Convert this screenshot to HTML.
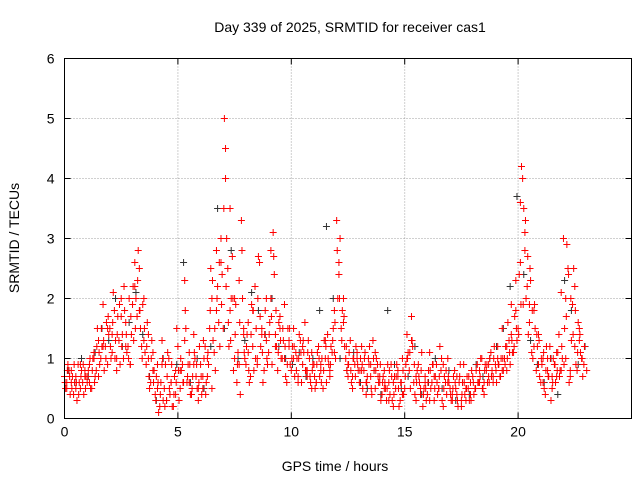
<!DOCTYPE html>
<html><head><meta charset="utf-8"><style>
body{margin:0;background:#fff}
svg text{font-family:"Liberation Sans","DejaVu Sans",sans-serif;font-size:14px;fill:#000}
</style></head><body>
<svg id="chart" width="640" height="480" xmlns="http://www.w3.org/2000/svg">
<rect width="640" height="480" fill="#fff"/>
<text x="350" y="32" text-anchor="middle">Day 339 of 2025, SRMTID for receiver cas1</text>
<text x="335" y="471" text-anchor="middle">GPS time / hours</text>
<text transform="translate(19,238) rotate(-90)" text-anchor="middle">SRMTID / TECUs</text>
<g id="grid"></g><g id="ticks"></g><g id="marks"></g>
<rect x="64.5" y="58.5" width="567" height="360" fill="none" stroke="#000"/>
</svg>
<script>
const xTicks=[0,5,10,15,20];
const yTicks=[0,1,2,3,4,5,6];
const red1=[0.7,0.5,0.8,0.6,0.4,0.7,0.9,0.5,0.6,0.8,0.6,0.9,0.5,1.1,0.8,1.3,1.0,1.9,1.2,0.9,1.5,1.1,1.8,0.8,1.3,2.0,1.0,1.6,1.2,0.9,1.9,2.6,1.7,2.5,1.2,2.0,0.9,1.4,0.6,1.1,0.4,0.9,0.2,1.3,0.5,0.3,1.0,0.6,0.2,0.8,1.2,0.5,0.9,2.3,0.6,1.1,0.4,1.4,0.7,0.3,0.9,0.5,1.2,0.7,1.5,2.0,1.1,2.8,1.6,3.0,1.5,4.0,2.5,1.8,2.7,1.0,0.6,2.3,3.3,1.4,0.9,1.6,0.7,1.2,2.2,1.0,2.6,1.5,0.8,1.3,1.1,2.0,3.1,1.4,0.8,1.7,1.0,1.9,0.6,1.2,0.8,1.5,1.1,0.6,1.3,0.9,1.6,0.7,1.0,0.5,0.9,0.6,1.2,0.8,0.5,1.0,1.4,0.7,1.1,1.8,3.3,2.4,1.5,2.0,1.0,0.7,1.3,0.5,0.9,1.1,0.6,1.2,0.8,0.4,1.0,0.7,1.3,0.5,0.9,0.6,0.4,0.8,0.3,0.6,0.9,0.2,0.5,0.7,0.3,1.0,0.5,1.4,0.8,1.7,0.6,0.3,0.9,0.5,0.2,0.7,0.4,1.1,0.6,0.3,0.9,0.5,0.8,0.2,0.6,1.0,0.5,0.3,0.8,0.4,0.6,0.2,0.9,0.3,0.5,0.4,0.7,0.5,0.9,0.6,1.0,0.4,0.8,0.7,1.1,0.6,0.9,1.2,0.7,1.5,1.0,0.8,1.3,1.9,1.1,2.3,1.5,2.6,4.0,3.1,2.2,1.6,1.1,1.8,0.8,1.4,0.6,1.0,0.4,0.8,1.2,0.5,0.9,0.7,1.4,2.1,3.0,1.0,2.5,0.7,1.9,1.2,0.8,1.5,1.0];
const red2=[0.5,0.9,0.4,0.7,0.6,0.3,0.6,0.8,0.4,0.7,0.8,0.5,1.0,0.7,1.5,0.9,1.2,0.8,1.6,1.4,1.0,2.1,1.3,1.7,0.9,1.4,1.8,1.1,2.0,1.4,1.3,2.0,2.8,1.5,1.9,1.1,1.6,0.5,1.3,0.8,0.7,0.1,0.6,0.3,0.9,1.1,0.4,0.2,0.7,1.5,0.3,0.8,0.6,1.5,0.9,0.4,0.7,1.0,0.5,1.2,0.4,1.0,0.6,0.9,2.5,1.3,0.8,2.2,1.2,2.4,5.0,3.0,1.2,2.0,0.8,1.9,1.1,0.4,2.0,1.0,1.4,0.6,1.9,0.8,1.5,2.7,1.2,0.6,1.8,0.9,1.6,0.9,2.4,1.2,1.6,1.0,1.3,0.7,1.5,0.9,1.2,0.7,1.0,1.4,0.6,1.1,0.8,1.3,0.6,0.9,0.5,1.1,0.7,1.0,1.3,0.6,0.9,1.2,1.5,1.0,2.0,3.0,1.8,1.2,0.8,1.1,0.6,1.0,1.2,0.8,1.0,0.5,1.1,0.7,1.2,0.4,0.8,1.0,0.6,0.3,0.7,0.5,0.9,0.4,0.3,0.7,0.9,0.2,0.6,0.4,0.9,1.1,0.5,1.2,0.4,0.8,0.6,1.1,0.5,0.3,0.8,0.5,0.9,0.7,0.4,1.2,0.3,0.7,0.4,0.6,0.3,0.7,0.5,0.2,0.9,0.6,0.4,0.7,0.3,0.8,0.4,0.8,0.6,1.0,0.5,0.9,0.6,1.0,0.8,1.2,0.6,0.9,1.0,0.8,1.2,1.6,0.9,1.1,1.7,1.3,2.4,4.2,3.5,2.0,1.4,2.3,1.0,1.5,1.2,0.7,0.9,0.5,1.2,0.7,0.3,1.0,0.6,1.1,0.8,1.0,1.5,2.9,0.6,1.3,2.5,0.9,1.6,1.1,0.7];
const red3=[0.6,0.8,0.5,0.9,0.7,0.6,1.0,0.7,1.2,1.5,1.4,1.0,1.7,1.2,0.9,2.2,1.8,1.3,1.0,0.8,0.5,0.9,0.3,0.6,0.4,0.8,1.3,0.6,0.9,0.5,0.7,1.0,0.5,1.8,2.6,4.5,3.5,2.0,0.9,1.5,1.1,1.8,0.9,1.4,2.0,2.8,1.2,1.5,1.0,1.3,1.0,0.7,1.2,0.8,1.1,0.6,0.9,1.3,0.8,1.1,2.6,1.6,0.9,0.7,1.0,0.8,0.6,0.9,1.1,0.7,0.5,0.3,0.6,0.8,0.4,1.0,1.3,0.7,0.4,0.6,0.3,0.7,0.5,0.9,0.6,0.4,0.7,0.3,0.5,0.6,0.5,0.8,0.6,0.9,0.7,1.0,0.8,1.2,1.4,1.8,3.6,2.8,1.9,1.2,0.9,0.6,1.0,0.7,1.1,0.8,2.0,0.8,2.2,1.3,0.9];
const red4=[0.6,0.8,0.7,0.5,0.9,0.6,0.4,0.7,0.9,0.5,0.7,1.0,0.8,0.6,1.2,1.1,1.5,1.3,1.0,1.7,1.2,1.6,1.0,1.4,1.9,1.2,2.2,1.4,1.0,1.7,2.2,1.5,2.3,1.8,1.0,1.5,1.2,0.7,1.0,0.6,0.3,0.6,0.4,1.0,0.2,0.7,0.5,0.9,0.4,0.6,0.8,1.0,0.6,1.8,0.7,0.9,0.5,1.1,0.9,0.6,0.7,1.3,0.4,1.1,1.8,2.3,1.5,2.0,2.6,1.9,3.5,2.2,1.6,1.3,2.0,1.4,0.9,1.6,2.8,1.1,1.2,0.8,1.4,1.8,1.0,2.0,1.7,1.1,1.4,1.0,1.4,1.7,2.7,1.8,1.1,1.3,1.5,1.2,0.9,1.5,1.0,1.2,0.8,1.0,1.1,1.3,0.8,1.1,0.7,0.8,0.7,0.9,1.0,0.6,0.8,1.2,1.0,0.9,1.3,1.6,2.8,2.0,1.3,1.7,1.2,0.9,0.8,1.0,0.7,0.9,0.8,0.9,1.0,0.6,0.9,0.5,1.0,0.8,0.7,0.9,0.6,0.6,0.5,0.8,0.7,0.4,0.7,0.5,0.6,0.8,0.7,1.0,1.1,1.3,0.9,0.6,0.7,0.8,0.4,0.5,0.6,0.8,0.9,0.5,0.6,0.7,1.0,0.5,0.8,0.7,0.4,0.5,0.6,0.3,0.7,0.4,0.6,0.5,0.7,0.3,0.6,0.5,0.6,0.7,0.5,0.8,0.9,0.6,0.7,1.0,0.8,0.9,0.7,1.0,0.9,1.0,1.1,1.3,1.2,1.5,1.4,1.9,1.9,3.3,2.7,2.5,1.8,1.9,1.4,1.3,1.0,1.1,0.8,0.7,1.0,0.6,0.9,0.8,0.7,1.2,0.9,1.7,2.4,2.0,1.4,1.8,1.1,1.4,1.0,1.2,0.8];
const black=[0.8,0.6,1.0,0.7,1.1,1.5,1.3,2.0,1.2,1.6,2.1,1.4,0.7,0.3,1.0,0.4,0.9,2.6,0.6,1.0,0.5,1.2,3.5,1.5,2.8,1.0,1.3,2.1,1.8,1.4,2.0,1.2,1.0,0.9,1.1,0.7,1.0,1.8,3.2,2.0,1.0,0.8,1.1,0.6,0.5,0.8,0.4,1.8,0.9,0.5,0.7,1.2,0.4,0.6,1.0,0.5,0.8,0.3,0.6,0.4,0.9,0.7,1.0,1.2,1.5,2.2,3.7,2.4,1.3,0.9,0.6,1.0,0.4,2.3,1.8,0.9,1.2];
const NS='http://www.w3.org/2000/svg';
const X0=64.5,X1=631.5,Y0=418.5,Y1=58.5;
const xs=v=>X0+(X1-X0)*v/25;
const ys=v=>Y0-(Y0-Y1)*v/6;
function mk(t,a,p){const e=document.createElementNS(NS,t);for(const k in a)e.setAttribute(k,a[k]);p.appendChild(e);return e;}
const grid=document.getElementById('grid'),ticks=document.getElementById('ticks'),marks=document.getElementById('marks');
xTicks.forEach(v=>{const x=xs(v);
 if(v>0){const g=mk('line',{x1:x,x2:x,y1:Y0,y2:Y1,stroke:'#a0a0a0','stroke-dasharray':'1,2'},grid);
 
 }
 mk('line',{x1:x,x2:x,y1:Y0,y2:Y0-6,stroke:'#000'},ticks);
 mk('line',{x1:x,x2:x,y1:Y1,y2:Y1+6,stroke:'#000'},ticks);
 const t=mk('text',{x:x,y:Y0+18,'text-anchor':'middle'},ticks);t.textContent=v;
 
 
});
yTicks.forEach(v=>{const y=ys(v);
 if(v>0&&v<6){const g=mk('line',{x1:X0,x2:X1,y1:y,y2:y,stroke:'#a0a0a0','stroke-dasharray':'1,2'},grid);
 
 }
 mk('line',{x1:X0,x2:X0+6,y1:y,y2:y,stroke:'#000'},ticks);
 mk('line',{x1:X1,x2:X1-6,y1:y,y2:y,stroke:'#000'},ticks);
 const t=mk('text',{x:X0-10,y:y+5,'text-anchor':'end'},ticks);t.textContent=v;
 
 
});
function plus(hour,val,col,name){const x=xs(hour),y=ys(val);
 const p=mk('path',{d:`M${x-3.5},${y}h7M${x},${y-3.5}v7`,stroke:col,'stroke-width':1},marks);
 
 
}
black.forEach((v,i)=>plus(i*0.3+0.15,v,'#333','black-point'));
red1.forEach((v,i)=>plus(i*0.1,v,'#f00','red-point'));
red2.forEach((v,i)=>plus(i*0.1+0.05,v,'#f00','red-point'));
red3.forEach((v,i)=>plus(i*0.2+0.1,v,'#f00','red-point'));
red4.forEach((v,i)=>plus(i*0.1+0.025,v,'#f00','red-point'));
</script>
</body></html>
